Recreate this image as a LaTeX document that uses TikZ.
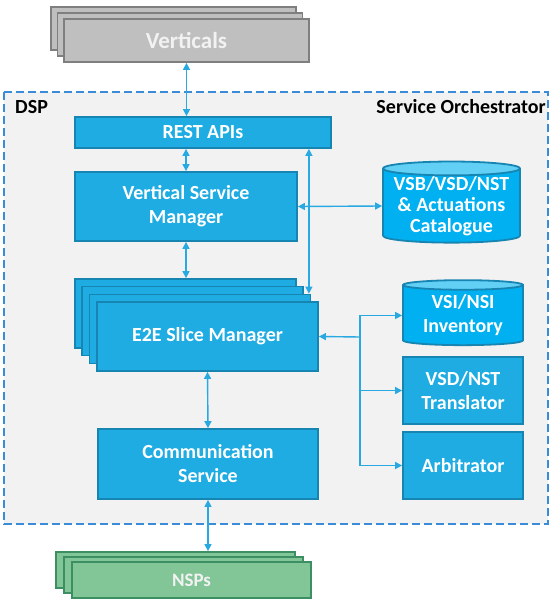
\documentclass[tikz,border=0pt]{standalone}
\usepackage{fontspec}
\setmainfont{Carlito}
\usetikzlibrary{arrows.meta,shapes.geometric}
\definecolor{boxblue}{HTML}{1FACE2}
\definecolor{boxline}{HTML}{1785B2}
\definecolor{cylblue}{HTML}{00B0F0}
\definecolor{cyltop}{HTML}{62CFF5}
\definecolor{arrowblue}{HTML}{29A9E1}
\definecolor{dashblue}{HTML}{3A8CD6}
\definecolor{regiongray}{HTML}{F2F2F2}
\definecolor{vertgray}{HTML}{BFBFBF}
\definecolor{vertline}{HTML}{7F7F7F}
\definecolor{nspgreen}{HTML}{82C596}
\definecolor{nspline}{HTML}{3B8F62}

\begin{document}
\begin{tikzpicture}[<->,>={Triangle[length=7pt,width=7pt]},x=1pt,y=-1pt]
    \tikzset{every edge/.style={draw=arrowblue,line width=1.4pt},
        txt/.style={font=\bfseries\fontsize{20}{24}\selectfont,align=center,inner sep=0pt},
        box/.style={txt,rectangle,draw=boxline,fill=boxblue,line width=1.8pt,text=white},
        store/.style={txt,cylinder,shape border rotate=90,aspect=0.12,draw=boxline,line width=1.8pt,
            cylinder uses custom fill,cylinder body fill=cylblue,cylinder end fill=cyltop,text=white},
        vert/.style={txt,rectangle,draw=vertline,fill=vertgray,line width=1.8pt,text=regiongray,
            minimum width=245pt,minimum height=43pt,font=\bfseries\fontsize{23}{27}\selectfont},
        nsp/.style={txt,rectangle,draw=nspline,fill=nspgreen,line width=1.8pt,text=regiongray,
            minimum width=239pt,minimum height=36pt,font=\bfseries\fontsize{19}{23}\selectfont},
        e2e/.style={box,minimum width=221pt,minimum height=69pt}}
    \useasboundingbox (0,0) rectangle (550,599);
    % DSP area
    \draw[-,dash pattern=on 8pt off 4pt,draw=dashblue,fill=regiongray,line width=1.8pt] (4,92) rectangle (548,524);
    \node[txt,anchor=west] (dsp) at (15,107) {DSP};
    \node[txt,anchor=east] (so) at (546,107) {Service Orchestrator};
    % verticals
    \node[vert] (V2) at (173.5,28.5) {};
    \node[vert] (V1) at (180,34.5) {};
    \node[vert] (V0) at (186.5,40.5) {Verticals};
    % blocks
    \node[box,minimum width=256pt,minimum height=31pt] (REST) at (203,132.5) {REST APIs};
    \node[box,minimum width=222pt,minimum height=69pt] (VSM) at (186,206.5) {Vertical Service\\Manager};
    \node[store,minimum width=137pt,minimum height=78pt,font=\bfseries\fontsize{20}{21}\selectfont] (Cat) at (451.5,206) {VSB/VSD/NST\\\& Actuations\\Catalogue};
    \node[e2e] (E3) at (185.5,313.5) {};
    \node[e2e] (E2) at (192.5,321) {};
    \node[e2e] (E1) at (200,329) {};
    \node[e2e] (E0) at (207.5,336.5) {E2E Slice Manager};
    \node[store,minimum width=120pt,minimum height=65pt] (Inv) at (463,315.5) {VSI/NSI\\Inventory};
    \node[box,minimum width=120pt,minimum height=67pt] (Tr) at (463,390.5) {VSD/NST\\Translator};
    \node[box,minimum width=120pt,minimum height=67pt] (Arb) at (463,465.5) {Arbitrator};
    \node[box,minimum width=220pt,minimum height=70pt] (CS) at (208,464) {Communication\\Service};
    % NSPs
    \node[nsp] (N2) at (175.5,570) {};
    \node[nsp] (N1) at (183.5,575) {};
    \node[nsp] (N0) at (191.5,580) {NSPs};
    % arrows
    \path (V0.south) edge (V0.south |- REST.north);
    \path (VSM.north |- REST.south) edge (VSM.north);
    \path ([xshift=-2.5pt]E1.north east |- REST.south) edge ([xshift=-2.5pt]E1.north east);
    \path (VSM.south) edge (VSM.south |- E3.north);
    \path (VSM.east) edge (Cat.west);
    \path (E0.south) edge (CS.north);
    \path (CS.south) edge (CS.south |- N2.north);
    \coordinate (br) at (360,337);
    \draw[-,draw=arrowblue,line width=1.4pt] (br |- Inv.west) -- (br |- Arb.west);
    \path (br) edge[->] (E0.east);
    \path (br |- Inv.west) edge[->] (Inv.west);
    \path (br |- Tr.west) edge[->] (Tr.west);
    \path (br |- Arb.west) edge[->] (Arb.west);
\end{tikzpicture}
\end{document}
